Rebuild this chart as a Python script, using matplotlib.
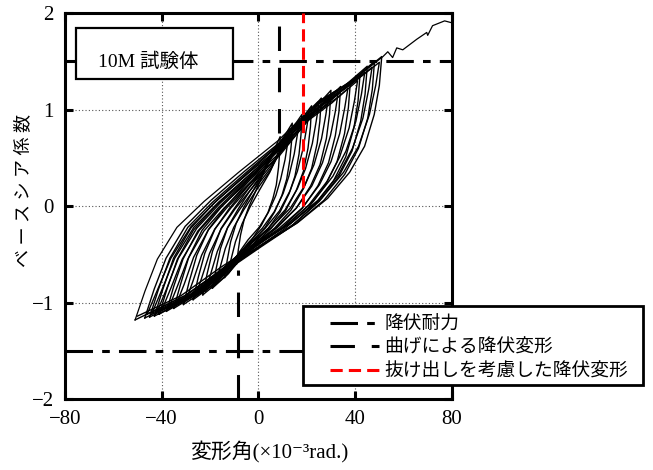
import matplotlib
matplotlib.use("Agg")
import matplotlib.pyplot as plt
from matplotlib.lines import Line2D
from matplotlib.patches import Rectangle

plt.rcParams['font.family'] = ['Liberation Serif', 'Noto Sans CJK JP', 'DejaVu Serif']
plt.rcParams['axes.unicode_minus'] = True

# 履歴ループ (変形角 x10^-3 rad, ベースシア係数) - 画像から読み取り
# 各振幅の1サイクル目
loop_x = [
    [-9, -8.3, -7.4, -5.9, -4.0, -1.4, 1.4, 4.3, 6.8, 9, 8.8, 8.3, 7.4, 6.0, 3.9, 1.2, -2.0, -5.5, -9.4, -14],
    [-14, -12.9, -11.5, -9.2, -6.2, -2.2, 2.2, 6.7, 10.6, 14, 13.7, 13.0, 11.7, 9.7, 6.7, 2.8, -1.8, -6.8, -12.4, -19],
    [-19, -17.5, -15.7, -12.7, -8.6, -3.5, 2.5, 8.4, 13.6, 18, 17.6, 16.8, 15.1, 12.7, 9.0, 4.1, -1.7, -7.8, -14.8, -23],
    [-23, -21.2, -19.0, -15.4, -10.4, -4.1, 3.1, 10.3, 16.6, 22, 21.5, 20.5, 18.6, 15.6, 11.2, 5.3, -1.5, -8.9, -17.2, -27],
    [-27, -24.9, -22.2, -18.0, -12.2, -4.7, 3.7, 12.2, 19.6, 26, 25.4, 24.3, 22.0, 18.6, 13.5, 6.6, -1.4, -9.9, -19.6, -31],
    [-31, -28.6, -25.5, -20.6, -13.9, -5.4, 4.4, 14.1, 22.7, 30, 29.4, 28.1, 25.5, 21.6, 15.7, 7.9, -1.2, -11.0, -22.0, -35],
    [-35, -32.2, -28.8, -23.3, -15.7, -6.0, 5.0, 16.1, 25.7, 34, 33.3, 31.8, 29.0, 24.6, 18.2, 9.5, -0.6, -11.4, -23.6, -38],
    [-38, -35.0, -31.2, -25.1, -16.7, -6.1, 6.1, 18.2, 28.9, 38, 37.2, 35.6, 32.5, 27.7, 20.6, 11.1, 0.1, -11.8, -25.2, -41],
    [-41, -37.7, -33.5, -26.9, -17.8, -6.1, 7.1, 20.4, 32.0, 42, 41.2, 39.5, 36.1, 31.0, 23.3, 13.1, 1.2, -11.6, -26.0, -43],
    [-43, -39.5, -35.1, -28.0, -18.4, -6.0, 8.0, 22.1, 34.4, 45, 44.1, 42.3, 38.7, 33.3, 25.2, 14.4, 1.8, -11.7, -27.0, -45],
    [-45, -41.3, -36.6, -29.2, -19.0, -5.9, 8.9, 23.8, 36.8, 48, 47.1, 45.2, 41.4, 35.7, 27.1, 15.7, 2.4, -11.9, -28.0, -47],
    [-47, -43.1, -38.2, -30.3, -19.6, -5.8, 9.8, 25.5, 39.2, 51, 50.0, 47.9, 43.9, 37.7, 28.6, 16.3, 2.0, -13.3, -30.6, -51],
]
loop_y = [
    [-0.60, -0.45, -0.30, -0.14, -0.01, 0.14, 0.30, 0.50, 0.60, 0.72, 0.56, 0.40, 0.22, 0.08, -0.07, -0.20, -0.32, -0.45, -0.61, -0.74],
    [-0.74, -0.56, -0.37, -0.18, -0.02, 0.16, 0.35, 0.59, 0.72, 0.86, 0.67, 0.48, 0.28, 0.11, -0.06, -0.22, -0.35, -0.51, -0.70, -0.85],
    [-0.85, -0.65, -0.44, -0.22, -0.04, 0.16, 0.37, 0.64, 0.79, 0.95, 0.74, 0.54, 0.31, 0.13, -0.06, -0.23, -0.38, -0.55, -0.75, -0.92],
    [-0.92, -0.70, -0.47, -0.23, -0.04, 0.18, 0.41, 0.71, 0.86, 1.04, 0.82, 0.60, 0.36, 0.16, -0.05, -0.23, -0.39, -0.57, -0.79, -0.97],
    [-0.97, -0.74, -0.49, -0.24, -0.03, 0.20, 0.45, 0.76, 0.93, 1.12, 0.88, 0.65, 0.39, 0.18, -0.04, -0.23, -0.40, -0.59, -0.83, -1.02],
    [-1.02, -0.78, -0.51, -0.24, -0.02, 0.22, 0.49, 0.82, 1.00, 1.20, 0.95, 0.70, 0.43, 0.21, -0.02, -0.22, -0.40, -0.61, -0.86, -1.06],
    [-1.06, -0.81, -0.53, -0.25, -0.02, 0.23, 0.50, 0.85, 1.03, 1.24, 0.98, 0.73, 0.45, 0.21, -0.02, -0.23, -0.41, -0.62, -0.88, -1.09],
    [-1.09, -0.83, -0.55, -0.26, -0.02, 0.24, 0.52, 0.88, 1.07, 1.28, 1.02, 0.75, 0.46, 0.22, -0.02, -0.23, -0.42, -0.64, -0.90, -1.12],
    [-1.12, -0.85, -0.55, -0.25, 0.00, 0.27, 0.57, 0.94, 1.14, 1.36, 1.09, 0.81, 0.51, 0.26, 0.01, -0.22, -0.42, -0.64, -0.92, -1.14],
    [-1.14, -0.86, -0.54, -0.23, 0.03, 0.31, 0.62, 1.01, 1.22, 1.45, 1.16, 0.88, 0.57, 0.31, 0.05, -0.19, -0.40, -0.63, -0.92, -1.15],
    [-1.15, -0.86, -0.54, -0.22, 0.04, 0.33, 0.65, 1.05, 1.26, 1.50, 1.21, 0.91, 0.60, 0.33, 0.06, -0.18, -0.39, -0.63, -0.92, -1.16],
    [-1.16, -0.86, -0.54, -0.21, 0.06, 0.36, 0.68, 1.09, 1.31, 1.55, 1.25, 0.95, 0.62, 0.35, 0.08, -0.17, -0.39, -0.63, -0.93, -1.18],
]
# 各振幅の2サイクル目
loop2_x = [
    [-13, -11.4, -9.5, -6.7, -3.7, 0.3, 4.7, 8.7, 12.1, 13, 12.2, 11.0, 9.2, 7.2, 4.2, 0.3, -4.3, -8.8, -13.9, -18],
    [-18, -16.0, -13.7, -10.2, -6.1, -1.0, 5.0, 10.4, 15.1, 17, 16.1, 14.8, 12.6, 10.2, 6.5, 1.6, -4.2, -9.8, -16.3, -22],
    [-22, -19.7, -17.0, -12.9, -7.9, -1.6, 5.6, 12.3, 18.1, 21, 20.0, 18.5, 16.1, 13.1, 8.7, 2.8, -4.0, -10.9, -18.7, -26],
    [-26, -23.4, -20.2, -15.5, -9.7, -2.2, 6.2, 14.2, 21.1, 25, 23.9, 22.3, 19.5, 16.1, 11.0, 4.1, -3.9, -11.9, -21.1, -30],
    [-30, -27.1, -23.5, -18.1, -11.4, -2.9, 6.9, 16.1, 24.2, 29, 27.9, 26.1, 23.0, 19.1, 13.2, 5.4, -3.7, -13.0, -23.5, -34],
    [-34, -30.7, -26.8, -20.8, -13.2, -3.5, 7.5, 18.1, 27.2, 33, 31.8, 29.8, 26.5, 22.1, 15.7, 7.0, -3.1, -13.4, -25.1, -37],
    [-37, -33.5, -29.2, -22.6, -14.2, -3.6, 8.6, 20.2, 30.4, 37, 35.7, 33.6, 30.0, 25.2, 18.1, 8.6, -2.4, -13.8, -26.7, -40],
    [-40, -36.2, -31.5, -24.4, -15.3, -3.6, 9.6, 22.4, 33.5, 41, 39.7, 37.5, 33.6, 28.5, 20.8, 10.6, -1.3, -13.6, -27.5, -42],
    [-42, -38.0, -33.1, -25.5, -15.9, -3.5, 10.5, 24.1, 35.9, 44, 42.6, 40.3, 36.2, 30.8, 22.7, 11.9, -0.7, -13.7, -28.5, -44],
    [-44, -39.8, -34.6, -26.7, -16.5, -3.4, 11.4, 25.8, 38.3, 47, 45.6, 43.2, 38.9, 33.2, 24.6, 13.2, -0.1, -13.9, -29.5, -46],
    [-46, -41.6, -36.2, -27.8, -17.1, -3.3, 12.3, 27.5, 40.7, 50, 48.5, 45.9, 41.4, 35.2, 26.1, 13.8, -0.5, -15.3, -32.1, -50],
]
loop2_y = [
    [-0.70, -0.56, -0.37, -0.18, -0.02, 0.16, 0.35, 0.59, 0.72, 0.80, 0.67, 0.48, 0.28, 0.11, -0.06, -0.22, -0.35, -0.51, -0.70, -0.81],
    [-0.81, -0.65, -0.44, -0.22, -0.04, 0.16, 0.37, 0.64, 0.79, 0.89, 0.74, 0.54, 0.31, 0.13, -0.06, -0.23, -0.38, -0.55, -0.75, -0.88],
    [-0.88, -0.70, -0.47, -0.23, -0.04, 0.18, 0.41, 0.71, 0.86, 0.98, 0.82, 0.60, 0.36, 0.16, -0.05, -0.23, -0.39, -0.57, -0.79, -0.93],
    [-0.93, -0.74, -0.49, -0.24, -0.03, 0.20, 0.45, 0.76, 0.93, 1.06, 0.88, 0.65, 0.39, 0.18, -0.04, -0.23, -0.40, -0.59, -0.83, -0.98],
    [-0.98, -0.78, -0.51, -0.24, -0.02, 0.22, 0.49, 0.82, 1.00, 1.14, 0.95, 0.70, 0.43, 0.21, -0.02, -0.22, -0.40, -0.61, -0.86, -1.02],
    [-1.02, -0.81, -0.53, -0.25, -0.02, 0.23, 0.50, 0.85, 1.03, 1.18, 0.98, 0.73, 0.45, 0.21, -0.02, -0.23, -0.41, -0.62, -0.88, -1.05],
    [-1.05, -0.83, -0.55, -0.26, -0.02, 0.24, 0.52, 0.88, 1.07, 1.22, 1.02, 0.75, 0.46, 0.22, -0.02, -0.23, -0.42, -0.64, -0.90, -1.08],
    [-1.08, -0.85, -0.55, -0.25, 0.00, 0.27, 0.57, 0.94, 1.14, 1.30, 1.09, 0.81, 0.51, 0.26, 0.01, -0.22, -0.42, -0.64, -0.92, -1.10],
    [-1.10, -0.86, -0.54, -0.23, 0.03, 0.31, 0.62, 1.01, 1.22, 1.39, 1.16, 0.88, 0.57, 0.31, 0.05, -0.19, -0.40, -0.63, -0.92, -1.11],
    [-1.11, -0.86, -0.54, -0.22, 0.04, 0.33, 0.65, 1.05, 1.26, 1.44, 1.21, 0.91, 0.60, 0.33, 0.06, -0.18, -0.39, -0.63, -0.92, -1.12],
    [-1.12, -0.86, -0.54, -0.21, 0.06, 0.36, 0.68, 1.09, 1.31, 1.49, 1.25, 0.95, 0.62, 0.35, 0.08, -0.17, -0.39, -0.63, -0.93, -1.14],
]
# 最終押し切り
push_x = [-51, -46.9, -41.8, -33.7, -22.4, -8.2, 8.2, 24.5, 38.8, 51.5, 53.5, 55.5, 57.2, 59.7, 65.5, 69.6, 70, 72, 77, 80]
push_y = [-1.18, -0.88, -0.55, -0.22, 0.05, 0.35, 0.68, 1.08, 1.30, 1.55, 1.60, 1.54, 1.64, 1.62, 1.73, 1.80, 1.77, 1.87, 1.92, 1.90]

yield_force = 1.5            # 降伏耐力
bend_yield_pos = 8.4         # 曲げによる降伏変形 (+)
bend_yield_neg = -8.5        # 曲げによる降伏変形 (-)
pullout_yield = 18.3         # 抜け出しを考慮した降伏変形
bend_pos_from, bend_neg_to = 0.76, -0.66

xticks = [-80, -40, 0, 40, 80]
yticks = [-2, -1, 0, 1, 2]

fig = plt.figure(figsize=(6.53, 4.70), dpi=100)
ax = fig.add_axes([0.0995, 0.151, 0.5925, 0.821])

ax.grid(True, color='#555555', linestyle=(0, (1, 2)), linewidth=0.8)
ax.set_axisbelow(True)

for xs, ys in zip(loop_x + loop2_x, loop_y + loop2_y):
    ax.plot(xs, ys, color='k', lw=1.0)
ax.plot(push_x, push_y, color='k', lw=0.9)

dashdot = (0, (9, 3, 2.5, 3))
dashed = (0, (8, 5.5))
reddash = (0, (4, 2))
ax.axhline(yield_force, color='k', lw=2.2, linestyle=dashdot)
ax.axhline(-yield_force, color='k', lw=2.2, linestyle=dashdot)
ax.vlines(bend_yield_pos, bend_pos_from, 2, color='k', lw=2.2, linestyles=dashed)
ax.vlines(bend_yield_neg, -2, bend_neg_to, color='k', lw=2.2, linestyles=dashed)
ax.vlines(pullout_yield, 0, 2, color='red', lw=2.2, linestyles=reddash, zorder=3)

ax.set_xlim(-80, 80)
ax.set_ylim(-2, 2)
ax.set_xticks(xticks)
ax.set_yticks(yticks)
ax.tick_params(direction='in', top=True, right=True, length=6, width=2.2,
               labelsize=15, pad=8)
for sp in ax.spines.values():
    sp.set_linewidth(2.2)

# 試験体名
ax.add_patch(Rectangle((0.028, 0.829), 0.406, 0.132, transform=ax.transAxes,
                       fc='white', ec='k', lw=1.6, zorder=4))
ax.text(0.214, 0.873, '10M 試験体', transform=ax.transAxes, ha='center', va='center',
        fontsize=14, zorder=5)

fig.text(0.038, 0.594, 'ベ ー ス シ ア 係 数', rotation=90, ha='center', va='center', fontsize=13)
fig.text(269 / 653, 1 - 452 / 470, '変形角(×10⁻³rad.)', ha='center', va='center', fontsize=15)

# 凡例
fig.add_artist(Rectangle((0.464, 0.181), 0.521, 0.168, transform=fig.transFigure,
                         fc='white', ec='k', lw=2.0, zorder=5))
handles = [
    Line2D([], [], color='k', lw=2.2, linestyle=dashdot),
    Line2D([], [], color='k', lw=2.2, linestyle=dashed),
    Line2D([], [], color='red', lw=2.2, linestyle=reddash),
]
labels = ['降伏耐力', '曲げによる降伏変形', '抜け出しを考慮した降伏変形']
leg = fig.legend(handles, labels, loc='upper left', bbox_to_anchor=(330 / 653, 1 - 316 / 470),
                 frameon=False, fontsize=13.5, handlelength=2.6, handletextpad=0.3,
                 labelspacing=0.33, borderpad=0, borderaxespad=0)
leg.set_zorder(6)

fig.savefig('out.png', dpi=100)
